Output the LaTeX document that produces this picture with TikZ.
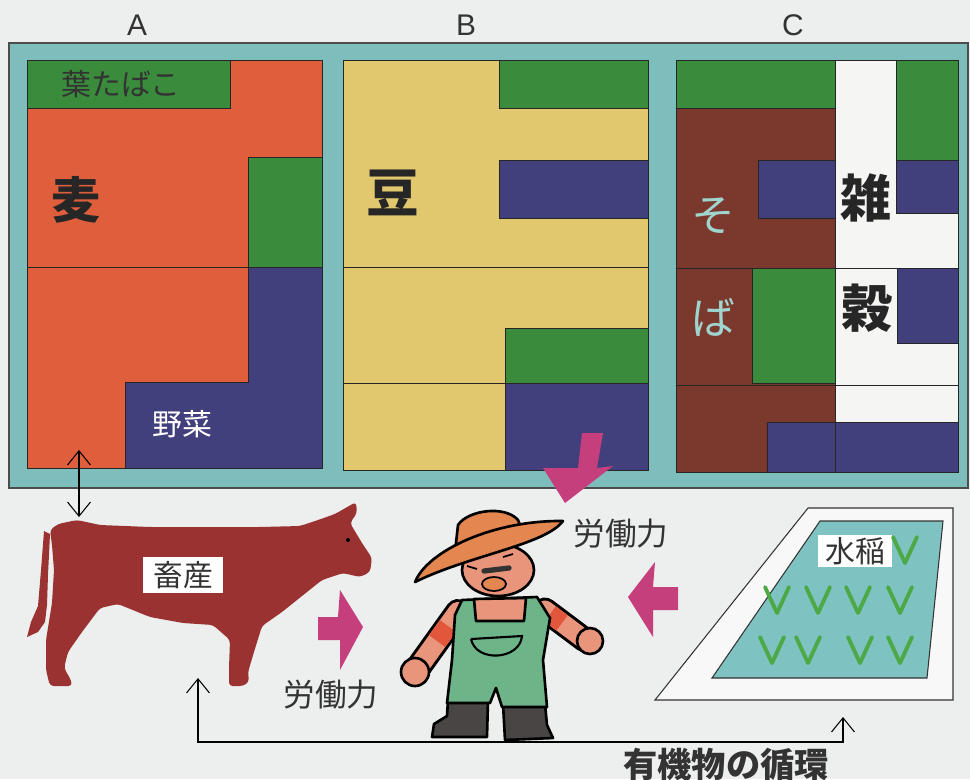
\documentclass[tikz,border=0pt]{standalone}
\usepackage{fontspec}
\usepackage{tikz}
\usetikzlibrary{arrows.meta}

\newfontfamily\jp{Noto Sans CJK JP}
\newfontfamily\lat{Liberation Sans}

\definecolor{paper}{HTML}{EDEEEE}
\definecolor{frameteal}{HTML}{7DBEBC}
\definecolor{wheat}{HTML}{DF5E3C}
\definecolor{tobacco}{HTML}{3A8B3C}
\definecolor{veg}{HTML}{423F7D}
\definecolor{bean}{HTML}{E1C76E}
\definecolor{soba}{HTML}{7B392E}
\definecolor{grain}{HTML}{F5F5F3}
\definecolor{sobatext}{HTML}{A0D4CF}
\definecolor{cowred}{HTML}{9A3232}
\definecolor{pushpink}{HTML}{C53F7D}
\definecolor{paddy}{HTML}{7EC3C1}
\definecolor{rice}{HTML}{4DA945}
\definecolor{skin}{HTML}{E8957B}
\definecolor{hat}{HTML}{E4864F}
\definecolor{overall}{HTML}{6DB489}
\definecolor{boot}{HTML}{4A4545}
\definecolor{cuff}{HTML}{E2573B}
\definecolor{ink}{HTML}{333333}

\begin{document}
\begin{tikzpicture}[x=0.02cm, y=-0.02cm, >={Straight Barb[length=8pt,width=13pt]},
  cell/.style={draw=black!85, line width=0.5pt},
  kanji/.style={font=\jp\bfseries\fontsize{29}{29}\selectfont, text=black!85},
  kana/.style={font=\jp\fontsize{25}{25}\selectfont, text=sobatext},
  tag/.style={font=\jp\fontsize{17}{17}\selectfont, text=ink, inner sep=1pt},
  work/.style={font=\jp\fontsize{18}{18}\selectfont, text=ink},
  head/.style={font=\lat\fontsize{17}{17}\selectfont, text=ink},
  seedling/.style={rice, line width=2.2pt, line cap=round, line join=round},
  outline/.style={draw=black, line width=1.5pt, line join=round}]

% paper
\fill[paper] (0,0) rectangle (970,779);
\clip (0,0) rectangle (970,779);

% the three field plans A, B, C
\node[head] (ta) at (137,25) {A};
\node[head] (tb) at (466,25) {B};
\node[head] (tc) at (793,25) {C};
\draw[fill=frameteal, draw=black!70, line width=0.6pt] (9,43) rectangle (968,488);

% A: wheat, tobacco, vegetables
\draw[cell, fill=wheat] (27,60) rectangle (322,468);
\draw[cell, fill=tobacco] (27,60) rectangle (230,108);
\draw[cell, fill=tobacco] (248,157) rectangle (322,267);
\draw[cell, fill=veg] (248,267) -- (322,267) -- (322,468) -- (125,468) -- (125,382) -- (248,382) -- cycle;
\draw[cell] (27,267) -- (322,267);
\node[tag, font=\jp\fontsize{17}{17}\selectfont] (tabako) at (121,84) {葉たばこ};
\node[kanji, font=\jp\bfseries\fontsize{28}{28}\selectfont] (mugi) at (76,200) {麦};
\node[tag, text=white] (yasai) at (182,424) {野菜};

% B: beans
\draw[cell, fill=bean] (343,60) rectangle (648,470);
\draw[cell, fill=tobacco] (499,60) rectangle (648,108);
\draw[cell, fill=veg] (499,160) rectangle (648,218);
\draw[cell] (343,267) -- (648,267);
\draw[cell] (343,383) -- (648,383);
\draw[cell, fill=tobacco] (505,328) rectangle (648,383);
\draw[cell, fill=veg] (505,383) rectangle (648,470);
\node[kanji, font=\jp\bfseries\fontsize{30}{30}\selectfont] (mame) at (393,193) {豆};

% C: buckwheat and other grains
\draw[cell, fill=soba] (676,60) rectangle (958,472);
\draw[cell, fill=grain] (835,60) rectangle (958,422);
\draw[cell, fill=tobacco] (676,60) rectangle (835,108);
\draw[cell, fill=tobacco] (896,60) rectangle (958,160);
\draw[cell, fill=veg] (896,160) rectangle (958,213);
\draw[cell, fill=veg] (758,160) rectangle (835,218);
\draw[cell] (676,268) -- (958,268);
\draw[cell, fill=tobacco] (752,268) rectangle (835,383);
\draw[cell, fill=veg] (897,268) rectangle (958,343);
\draw[cell] (676,385) -- (958,385);
\draw[cell, fill=veg] (767,422) rectangle (958,472);
\draw[cell] (835,422) -- (835,472);
\node[kana] (so) at (713,216) {そ};
\node[kana] (ba) at (713,317) {ば};
\node[kanji] (zatsu) at (866,198) {雑};
\node[kanji] (koku) at (867,308) {穀};

% cow
\fill[cowred, rounded corners=2pt] (50,530) -- (58,524) -- (77,520) -- (100,525) -- (150,527)
  -- (200,527) -- (260,527) -- (300,526) -- (318,520) -- (335,514) -- (356,502) -- (357,513)
  -- (350,523) -- (362,543) -- (372,558) -- (370,572) -- (360,577) -- (343,573) -- (322,580)
  -- (302,596) -- (282,612) -- (262,626) -- (254,652) -- (248,672) -- (249,682) -- (243,686)
  -- (229,686) -- (229,668) -- (230,640) -- (213,625) -- (183,623) -- (150,617) -- (118,604)
  -- (100,608) -- (82,632) -- (68,652) -- (64,668) -- (71,680) -- (72,686) -- (50,686)
  -- (46,670) -- (46,640) -- (52,603) -- (54,570) -- (52,545) -- cycle;
\fill[cowred] (44,531) -- (50,534) -- (48,575) -- (47,605) -- (45,622) -- (38,632) -- (27,637)
  -- (31,622) -- (38,606) -- (41,570) -- cycle;
\fill[black] (348,540) circle (2);
\node[tag, fill=white, minimum width=1.62cm, minimum height=0.72cm] (chikusan) at (183,575) {畜産};

% farmer: arms first, then body, face and hat
\draw[line width=0.52cm, line cap=round] (458,612) -- (420,665);
\draw[skin, line width=0.4cm, line cap=round] (458,612) -- (420,665);
\draw[cuff, line width=0.4cm] (448,626) -- (437,641);
\draw[line width=0.5cm, line cap=round] (545,610) -- (585,640);
\draw[skin, line width=0.38cm, line cap=round] (545,610) -- (585,640);
\draw[cuff, line width=0.38cm] (550,614) -- (562,623);
\filldraw[fill=skin, outline] (415,672) circle (14);
\filldraw[fill=skin, outline] (590,641) circle (13);
\filldraw[fill=boot, outline] (448,700) -- (488,700) -- (487,737) -- (432,737) -- (434,724) -- (447,716) -- cycle;
\filldraw[fill=boot, outline] (503,704) -- (545,704) -- (547,725) -- (553,738) -- (505,740) -- cycle;
\filldraw[fill=overall, outline] (462,600) -- (537,597) -- (550,618) -- (543,660) -- (547,707)
  -- (502,707) -- (496,688) -- (490,703) -- (447,703) -- (452,660) -- (455,615) -- cycle;
\filldraw[fill=skin, outline] (474,599) -- (526,598) -- (524,621) -- (476,621) -- cycle;
\draw[line width=1.2pt] (471,639) -- (522,636) .. controls (520,660) and (476,663) .. (471,639);
\filldraw[fill=hat, outline] (455,552) -- (458,525) .. controls (468,510) and (505,505) .. (518,520) -- (524,535) -- cycle;
\filldraw[fill=skin, outline] (498,570) ellipse [x radius=36, y radius=26];
\draw[line width=3pt, line cap=round, black!80] (484,571) -- (509,568);
\filldraw[fill=hat, draw=black, line width=1pt] (494,584) ellipse [x radius=12, y radius=7];
\draw[line width=1pt] (503,557) -- (513,554);
\draw[line width=1pt] (467,566) -- (477,569);
\filldraw[fill=hat, outline] (415,582) .. controls (428,550) and (495,520) .. (563,521)
  .. controls (545,545) and (470,555) .. (415,582) -- cycle;

% labour arrows
\fill[pushpink] (582,433) -- (603,433) -- (597,468) -- (613,466) -- (565,503) -- (543,468) -- (578,468) -- cycle;
\node[work] (rodo1) at (621,534) {労働力};
\fill[pushpink] (318,617) -- (338,617) -- (340,590) -- (363,627) -- (340,670) -- (340,640) -- (318,640) -- cycle;
\node[work] (rodo2) at (331,695) {労働力};
\fill[pushpink] (678,587) -- (653,587) -- (655,562) -- (628,597) -- (653,637) -- (653,610) -- (678,610) -- cycle;

% paddy field
\draw[fill=white!60!paper, draw=black!80, line width=0.6pt] (808,508) -- (953,508) -- (953,700) -- (655,700) -- cycle;
\draw[fill=paddy, draw=black!80, line width=0.6pt] (820,521) -- (943,521) -- (927,678) -- (712,678) -- cycle;
\node[tag, fill=white, minimum width=1.48cm, minimum height=0.64cm] (suito) at (855,551) {水稲};
\foreach \vx/\vy in {905/550, 777/600, 818/600, 858/600, 900/600, 772/650, 808/650, 860/650, 900/650}
  \draw[seedling] (\vx-12,\vy-13) -- (\vx,\vy+13) -- (\vx+12,\vy-13);

% exchange between field A and the cow, and the organic cycle
\coordinate (fieldA) at (79,450);
\coordinate (cowback) at (79,517);
\draw[<->, line width=0.6pt] (fieldA) -- (cowback);
\coordinate (cowfoot) at (198,678);
\coordinate (paddyfoot) at (843,717);
\draw[<->, line width=0.6pt] (cowfoot) -- ++(0,64) -| (paddyfoot);
\node[work, font=\jp\bfseries\fontsize{19.5}{19.5}\selectfont] (junkan) at (726,764) {有機物の循環};

\end{tikzpicture}
\end{document}
